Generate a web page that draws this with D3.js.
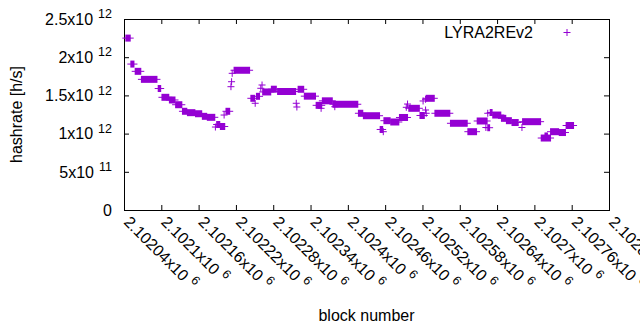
<!DOCTYPE html>
<html>
<head>
<meta charset="utf-8">
<script src="https://cdn.jsdelivr.net/npm/d3@7"></script>
<style>
body { margin: 0; background: #fff; }
text { font-family: "Liberation Sans", Arial, sans-serif; fill: #000; }
</style>
</head>
<body>
<svg id="chart" width="640" height="330"></svg>
<script>
// runs of blocks with the same hashrate estimate (hashrate in 10^12 h/s)
const blockFrom = [
    2102043, 2102051, 2102058, 2102068, 2102095, 2102101, 2102113, 2102123, 2102134, 2102142,
    2102155, 2102166, 2102174, 2102187, 2102189, 2102195, 2102201, 2102204, 2102212, 2102213,
    2102214, 2102217, 2102244, 2102251, 2102253, 2102260, 2102262, 2102263, 2102277, 2102287,
    2102317, 2102318, 2102320, 2102330, 2102349, 2102357, 2102359, 2102376, 2102379, 2102417,
    2102425, 2102452, 2102457, 2102458, 2102469, 2102483, 2102494, 2102496, 2102498, 2102516,
    2102521, 2102525, 2102525, 2102526, 2102526, 2102540, 2102565, 2102593, 2102608, 2102622,
    2102625, 2102625, 2102629, 2102633, 2102647, 2102655, 2102664, 2102680, 2102681, 2102711,
    2102717, 2102726, 2102740, 2102751
];
const blockTo = [
    2102050, 2102056, 2102067, 2102093, 2102099, 2102112, 2102122, 2102133, 2102141, 2102154,
    2102165, 2102173, 2102186, 2102187, 2102194, 2102202, 2102201, 2102210, 2102212, 2102213,
    2102214, 2102242, 2102250, 2102251, 2102258, 2102260, 2102262, 2102276, 2102285, 2102316,
    2102317, 2102318, 2102329, 2102348, 2102358, 2102357, 2102375, 2102416, 2102379, 2102424,
    2102451, 2102456, 2102457, 2102468, 2102482, 2102496, 2102494, 2102496, 2102515, 2102523,
    2102521, 2102525, 2102525, 2102526, 2102539, 2102564, 2102592, 2102607, 2102624, 2102622,
    2102628, 2102625, 2102632, 2102646, 2102654, 2102663, 2102674, 2102680, 2102710, 2102726,
    2102721, 2102739, 2102750, 2102763
];
const hashrate = [
    2.25, 1.91, 1.815, 1.71, 1.59, 1.475, 1.44, 1.378, 1.292, 1.274,
    1.26, 1.226, 1.213, 1.086, 1.119, 1.093, 1.243, 1.292, 1.614, 1.679,
    1.789, 1.829, 1.462, 1.397, 1.488, 1.593, 1.636, 1.545, 1.581, 1.551,
    1.397, 1.348, 1.58, 1.49, 1.37, 1.331, 1.429, 1.384, 1.352, 1.266,
    1.234, 1.054, 1.025, 1.169, 1.152, 1.211, 1.344, 1.387, 1.331, 1.237,
    1.427, 1.449, 1.309, 1.266, 1.462, 1.266, 1.135, 1.025, 1.165, 1.08,
    1.077, 1.266, 1.276, 1.243, 1.2, 1.169, 1.145, 1.08, 1.156, 0.942,
    0.969, 1.025, 1.014, 1.106
];

const xTicks = [2102040, 2102100, 2102160, 2102220, 2102280, 2102340, 2102400,
    2102460, 2102520, 2102580, 2102640, 2102700, 2102760, 2102820];
const xTickLabels = ["2.10204", "2.1021", "2.10216", "2.10222", "2.10228", "2.10234", "2.1024",
    "2.10246", "2.10252", "2.10258", "2.10264", "2.1027", "2.10276", "2.10282"];
const yTicks = [0, 0.5, 1, 1.5, 2, 2.5];
const yTickLabels = ["0", "5x10", "1x10", "1.5x10", "2x10", "2.5x10"];
const yTickPowers = ["", "11", "12", "12", "12", "12"];

const seriesName = "LYRA2REv2";
const purple = "#9400d3";

var width = 640,
    height = 330;

const margin = {
    top: 19,
    bottom: 120,
    left: 124,
    right: 31
};

var svg = d3.select("svg#chart");

var x = d3.scaleLinear()
    .domain([2102040, 2102820])
    .range([margin.left, width - margin.right]);

var y = d3.scaleLinear()
    .domain([0, 2.5])
    .range([height - margin.bottom, margin.top]);

function translate(a, b) {
    return "translate(" + String(a) + "," + String(b) + ")";
}

// ticks point inwards on all four sides
var axes = svg.append("g").attr("id", "axes");
axes.append("g").attr("transform", translate(0, y(0)))
    .call(d3.axisBottom(x).tickValues(xTicks).tickSize(-5).tickSizeOuter(0).tickFormat(""));
axes.append("g").attr("transform", translate(0, y(2.5)))
    .call(d3.axisTop(x).tickValues(xTicks).tickSize(-5).tickSizeOuter(0).tickFormat(""));
axes.append("g").attr("transform", translate(x(2102040), 0))
    .call(d3.axisLeft(y).tickValues(yTicks).tickSize(-5).tickSizeOuter(0).tickFormat(""));
axes.append("g").attr("transform", translate(x(2102820), 0))
    .call(d3.axisRight(y).tickValues(yTicks).tickSize(-5).tickSizeOuter(0).tickFormat(""));
axes.selectAll(".domain").remove();
axes.selectAll(".tick line").attr("stroke", "#000");

// border
svg.append("rect")
    .attr("x", x(2102040) + 0.5)
    .attr("y", y(2.5) + 0.5)
    .attr("width", x(2102820) - x(2102040))
    .attr("height", y(0) - y(2.5))
    .attr("fill", "none")
    .attr("stroke", "#000")
    .attr("stroke-width", 1);

// y tick labels with raised exponent
var yLabels = svg.append("g").attr("id", "y-labels");
yTicks.forEach(function(v, i) {
    let t = yLabels.append("text")
        .attr("x", 112)
        .attr("y", y(v) + 5.7)
        .attr("text-anchor", "end")
        .style("font-size", "16px");
    t.append("tspan").text(yTickLabels[i]);
    if (yTickPowers[i] != "") {
        t.append("tspan")
            .attr("dx", 5)
            .attr("dy", -6.6)
            .style("font-size", "12.5px")
            .text(yTickPowers[i]);
    }
});

// x tick labels, rotated
var xLabels = svg.append("g").attr("id", "x-labels");
xTicks.forEach(function(v, i) {
    let t = xLabels.append("text")
        .attr("transform", translate(x(v) - 1, y(0) + 13) + " rotate(45)")
        .attr("text-anchor", "start")
        .style("font-size", "16px");
    t.append("tspan").text(xTickLabels[i] + "x10");
    t.append("tspan")
        .attr("dx", 5)
        .attr("dy", -6.6)
        .style("font-size", "12.5px")
        .text("6");
});

// axis titles
svg.append("text")
    .attr("transform", translate(22, (y(0) + y(2.5)) / 2) + " rotate(-90)")
    .attr("text-anchor", "middle")
    .style("font-size", "16px")
    .text("hashrate [h/s]");

svg.append("text")
    .attr("x", (x(2102040) + x(2102820)) / 2)
    .attr("y", 320.5)
    .attr("text-anchor", "middle")
    .style("font-size", "16px")
    .text("block number");

// points: each run of "+" markers becomes a filled bar with the arms sticking out
var runs = blockFrom.map(function(b, i) {
    return {from: b, to: blockTo[i], rate: hashrate[i]};
});

var points = svg.append("g").attr("id", "points");
points.selectAll("rect")
    .data(runs)
    .enter()
    .append("rect")
    .attr("x", d => x(d.from) - 0.5)
    .attr("width", d => x(d.to) - x(d.from) + 1)
    .attr("y", d => y(d.rate) - 3.5)
    .attr("height", 7)
    .attr("fill", purple);
points.selectAll("line")
    .data(runs)
    .enter()
    .append("line")
    .attr("x1", d => x(d.from) - 3.5)
    .attr("x2", d => x(d.to) + 3.5)
    .attr("y1", d => y(d.rate))
    .attr("y2", d => y(d.rate))
    .attr("stroke", purple)
    .attr("stroke-width", 1);

// legend
var legend = svg.append("g").attr("id", "legend");
legend.append("text")
    .attr("x", 533)
    .attr("y", 37.5)
    .attr("text-anchor", "end")
    .style("font-size", "16px")
    .text(seriesName);
legend.append("line")
    .attr("x1", 563.5).attr("x2", 570.5)
    .attr("y1", 32.5).attr("y2", 32.5)
    .attr("stroke", purple);
legend.append("line")
    .attr("x1", 567).attr("x2", 567)
    .attr("y1", 29).attr("y2", 36)
    .attr("stroke", purple);
</script>
</body>
</html>
